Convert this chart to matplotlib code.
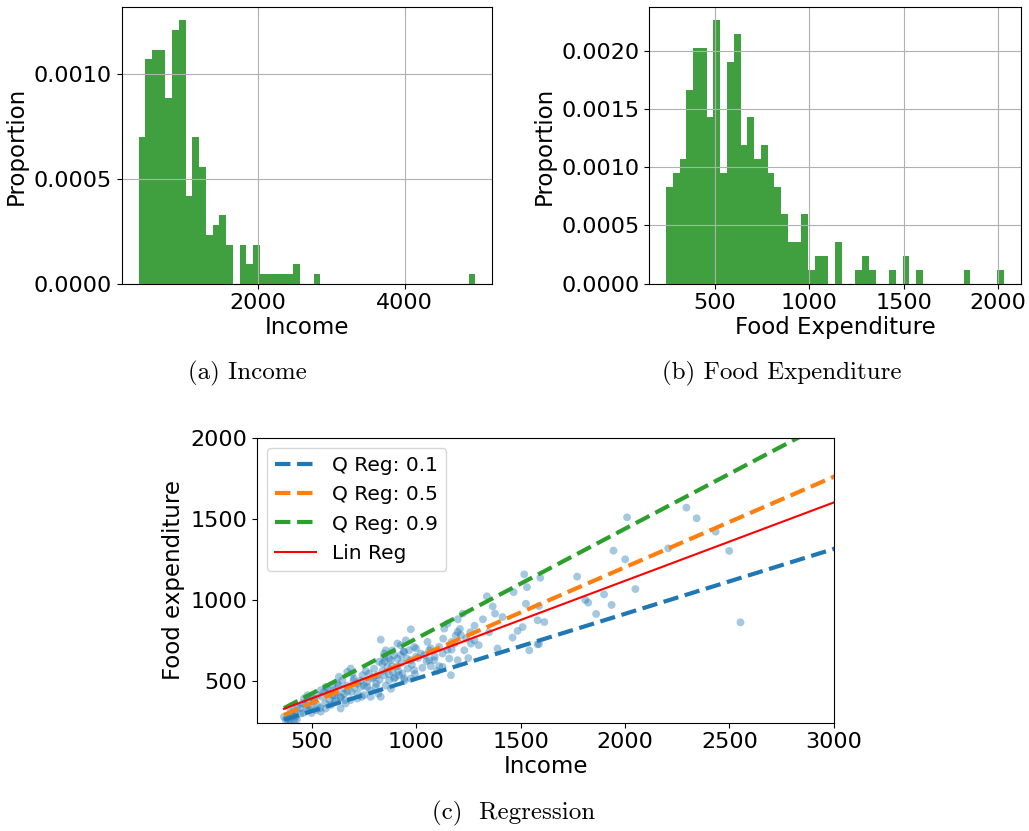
import numpy as np
import matplotlib
matplotlib.use('Agg')
import matplotlib.pyplot as plt
from matplotlib.ticker import FormatStrFormatter

# histogram counts (50 bins between min and max of each variable)
income_range = (377.06, 4957.81)
income_counts = [15, 23, 24, 24, 19, 26, 27, 9, 15, 12, 5, 6, 7, 4, 0, 4, 2, 4, 1, 1,
                 1, 1, 1, 2, 0, 0, 1, 0, 0, 0, 0, 0, 0, 0, 0, 0, 0, 0, 0, 0,
                 0, 0, 0, 0, 0, 0, 0, 0, 0, 1]
food_range = (242.32, 2032.68)
food_counts = [7, 8, 9, 14, 17, 17, 12, 19, 8, 16, 18, 10, 12, 9, 10, 8, 7, 5, 3, 3,
               5, 1, 2, 2, 0, 3, 0, 0, 1, 2, 1, 0, 0, 1, 0, 2, 0, 1, 0, 0,
               0, 0, 0, 0, 1, 0, 0, 0, 0, 1]
n_obs = 235
income_yticks = [0.0, 0.0005, 0.0010]

# scatter points
income = [1518, 1595, 1531, 1467, 1339, 1367, 1526, 1223, 1414, 1378, 1582, 1614, 1510, 1486,
          1462, 1582, 1542, 1390, 1279, 1199, 1215, 1183, 1170, 1127, 1087, 1071, 1111, 1167,
          975, 1055, 991, 967, 943, 956, 927, 911, 887, 871, 855, 831, 839, 863, 887, 911,
          935, 943, 975, 991, 975, 999, 1023, 1063, 847, 823, 799, 775, 791, 807, 783, 831,
          735, 719, 703, 687, 671, 695, 647, 631, 623, 600, 655, 687, 639, 607, 584, 560,
          568, 544, 528, 512, 496, 480, 464, 456, 432, 416, 400, 384, 376, 424, 448, 480,
          496, 520, 544, 568, 592, 616, 639, 663, 719, 751, 607, 671, 743, 767, 815, 847,
          871, 895, 919, 879, 895, 847, 911, 951, 927, 1039, 1063, 1127, 1199, 1159, 1231, 1263,
          1135, 1151, 368, 392, 400, 416,
          2010, 2294, 2343, 2434, 2207, 1945, 2001, 2499, 2050, 1936, 1900, 1862, 1824, 1810,
          1771, 1588, 1588, 2553, 2822, 4957,
          420, 445, 470, 490, 510, 530, 550, 565, 585, 600, 620, 640, 655, 670, 690, 705,
          720, 735, 750, 765, 780, 795, 810, 825, 840, 855, 870, 885, 900, 915, 930, 945,
          960, 980, 995, 1010, 1030, 1050, 1070, 1090, 1110, 1130, 1150, 1170, 1190, 1210, 1240, 1260,
          1280, 1300, 1320, 1350, 390, 405, 430, 460, 480, 500, 540, 575, 610, 630, 660, 700,
          740, 760, 820, 850, 880, 940, 1000, 1100, 1200, 1250]
foodexp = [1158, 1137, 1079, 1048, 1022, 960, 976, 915, 894, 915, 874, 863, 832, 808,
           767, 725, 688, 699, 750, 802, 781, 729, 692, 668, 627, 590, 590, 534,
           818, 740, 709, 688, 678, 637, 658, 730, 688, 637, 688, 754, 606, 585, 555, 590,
           544, 513, 513, 565, 627, 647, 668, 688, 647, 617, 575, 544, 513, 462, 400, 400,
           462, 483, 513, 575, 555, 544, 503, 524, 483, 472, 452, 380, 400, 411, 421, 431,
           462, 441, 411, 390, 400, 380, 390, 359, 338, 318, 308, 277, 256, 277, 297, 318,
           338, 318, 308, 328, 349, 380, 328, 359, 390, 411, 441, 431, 534, 462, 534, 534,
           503, 513, 534, 627, 658, 668, 637, 750, 719, 658, 627, 585, 627, 637, 688, 729,
           822, 853, 277, 256, 246, 256,
           1511, 1571, 1505, 1422, 1319, 1305, 1251, 1303, 1067, 969, 1034, 913, 983, 1000,
           1144, 962, 727, 861, 2032, 1827,
           300, 330, 350, 320, 370, 345, 400, 360, 380, 410, 430, 395, 420, 470, 430, 455,
           420, 500, 470, 490, 440, 520, 480, 505, 560, 470, 540, 590, 520, 560, 610, 500,
           575, 600, 540, 640, 580, 620, 700, 650, 710, 760, 690, 740, 780, 820, 760, 800,
           840, 720, 880, 800, 270, 290, 260, 300, 410, 300, 330, 450, 370, 470, 380, 500,
           400, 560, 420, 620, 450, 680, 700, 560, 880, 640]

# fitted lines
q_labels = ['Q Reg: 0.1', 'Q Reg: 0.5', 'Q Reg: 0.9']
q_intercepts = [110.14, 81.48, 80.0]
q_slopes = [0.4018, 0.5602, 0.680]
q_colors = ['C0', 'C1', 'C2']
ols_intercept = 147.48
ols_slope = 0.4852

plt.rc('font', size=16)
fig = plt.figure(figsize=(10.29, 8.31), dpi=100)


def hist_panel(rect, counts, lo_hi, xlabel, xticks=None, yticks=None):
    ax = fig.add_axes(rect)
    edges = np.linspace(lo_hi[0], lo_hi[1], len(counts) + 1)
    width = edges[1] - edges[0]
    dens = np.array(counts) / (n_obs * width)
    ax.bar(edges[:-1], dens, width=width, align='edge', color='g', alpha=0.75)
    ax.grid(True)
    ax.set_xlabel(xlabel, fontsize=16.5, labelpad=2)
    ax.set_ylabel('Proportion', fontsize=16.5, labelpad=4)
    ax.tick_params(labelsize=16)
    if xticks is not None:
        ax.set_xticks(xticks)
    if yticks is not None:
        ax.set_yticks(yticks)
    ax.yaxis.set_major_formatter(FormatStrFormatter('%.4f'))
    return ax


hist_panel([0.1183, 0.6586, 0.3599, 0.3326], income_counts, income_range, 'Income',
           [2000, 4000], income_yticks)
hist_panel([0.6310, 0.6586, 0.3612, 0.3326], food_counts, food_range, 'Food Expenditure')

ax = fig.add_axes([0.2500, 0.1303, 0.5604, 0.3423])
xs = np.linspace(min(income), max(income), 100)
for lab, a, b, c in zip(q_labels, q_intercepts, q_slopes, q_colors):
    ax.plot(xs, a + b * xs, linestyle='--', linewidth=3, color=c, label=lab)
ax.plot(xs, ols_intercept + ols_slope * xs, color='red', linewidth=1.5, label='Lin Reg')
ax.scatter(income, foodexp, alpha=0.4, s=32, color='C0', edgecolors='none')
ax.set_xlim(240, 3000)
ax.set_ylim(240, 2000)
ax.set_xticks([500, 1000, 1500, 2000, 2500, 3000])
ax.set_yticks([500, 1000, 1500, 2000])
ax.tick_params(labelsize=16)
ax.set_xlabel('Income', fontsize=16.5, labelpad=2)
ax.set_ylabel('Food expenditure', fontsize=16.5)
ax.legend(loc='upper left', fontsize=14.5)

cap = dict(family='cmr10', fontsize=18, ha='center', va='center')
fig.text(0.2405, 1 - 373 / 831, '(a) Income', **cap)
fig.text(0.7600, 1 - 373 / 831, '(b) Food Expenditure', **cap)
fig.text(0.4995, 1 - 813 / 831, '(c)  Regression', **cap)

plt.savefig('out.png', dpi=100)
plt.close()
